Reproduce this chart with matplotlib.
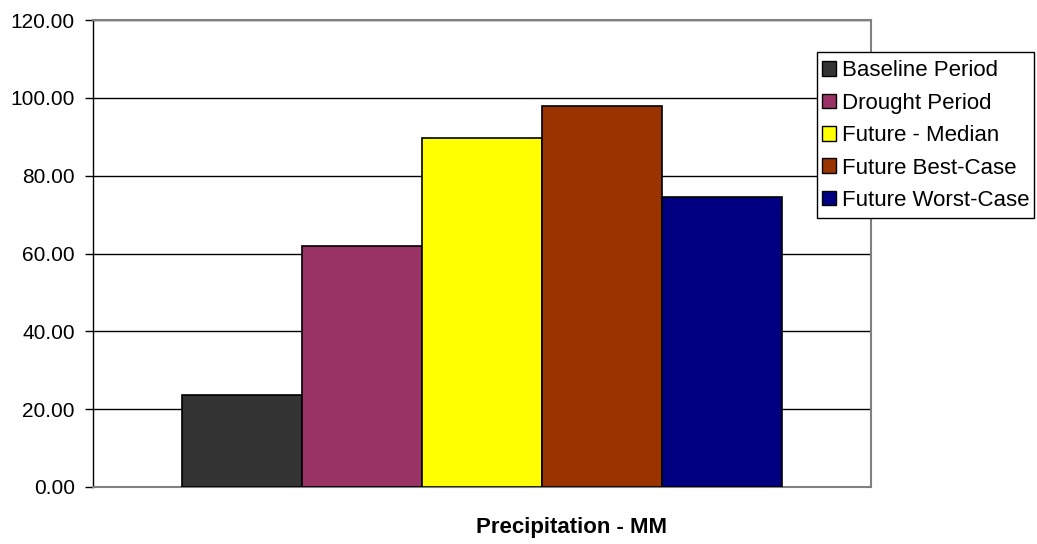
import numpy as np
import matplotlib.pyplot as plt
from matplotlib.patches import Patch, Rectangle

plt.rcParams['font.family'] = ['Liberation Sans', 'DejaVu Sans']

series = ["Baseline Period", "Drought Period", "Future - Median",
          "Future Best-Case", "Future Worst-Case"]
values = [23.6, 62.0, 89.8, 98.0, 74.5]
colors = ["#333333", "#993366", "#FFFF00", "#993300", "#000080"]
category = "Precipitation - MM"

W, H = 1037, 544
fig = plt.figure(figsize=(W / 100, H / 100), dpi=100)
ax = fig.add_axes([93 / W, 1 - 487 / H, 778 / W, 467 / H])

x = np.arange(len(series))
ax.bar(x, values, width=1.0, color=colors, edgecolor="black", linewidth=1.2,
       zorder=3)

half = 778 / 120 / 2
ax.set_xlim(2 - half, 2 + half)
ax.set_ylim(0, 120)
ax.set_yticks(np.arange(0, 121, 20))
ax.set_yticklabels([f"{v:.2f}" for v in np.arange(0, 121, 20)], fontsize=15)
ax.set_xticks([])
ax.tick_params(axis="y", direction="out", length=6, width=1, pad=7)

ax.yaxis.grid(True, color="black", linewidth=1.0, zorder=0)
ax.set_axisbelow(True)
for side in ["top", "right", "bottom"]:
    ax.spines[side].set_color("#808080")
    ax.spines[side].set_linewidth(1.5)
ax.spines["left"].set_color("black")
ax.spines["left"].set_linewidth(1.0)

fig.text(572 / W, 1 - 527 / H, category, ha="center", va="center",
         fontsize=16, fontweight="bold")

# legend box drawn separately so the padding can differ per side
fig.patches.append(Rectangle((817 / W, 1 - 218 / H), 217 / W, 166 / H,
                             transform=fig.transFigure, facecolor="white",
                             edgecolor="black", linewidth=1.0, zorder=5))
handles = [Patch(facecolor=c, edgecolor="black", linewidth=1.0) for c in colors]
leg = fig.legend(handles, series, loc="upper left",
                 bbox_to_anchor=(822 / W, 1 - 60.5 / H),
                 fontsize=16, frameon=False,
                 handlelength=0.62, handleheight=0.62, handletextpad=0.3,
                 labelspacing=0.51, borderpad=0.0, borderaxespad=0.0)
leg.set_zorder(6)

fig.savefig("out.png", dpi=100)
